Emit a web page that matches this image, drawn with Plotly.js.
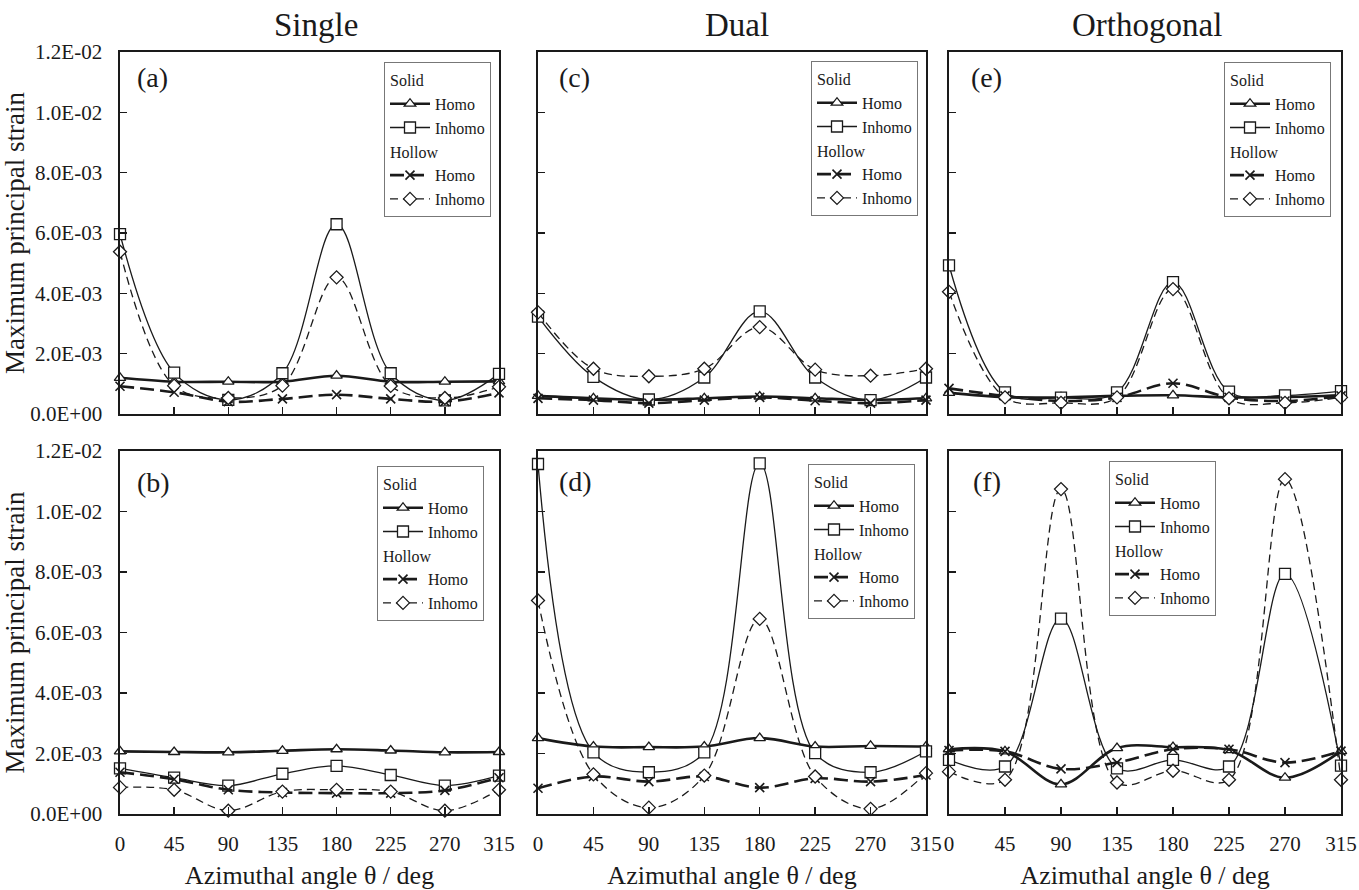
<!DOCTYPE html>
<html>
<head>
<meta charset="utf-8">
<script src="https://cdn.plot.ly/plotly-3.0.1.min.js"></script>
<style>
html,body{margin:0;padding:0;background:#fff;}
#chart{width:1359px;height:890px;}
</style>
</head>
<body>
<div id="chart"></div>
<script>
// ---------------- data ----------------
const angles = [0, 45, 90, 135, 180, 225, 270, 315];
const angleLabels = ['0', '45', '90', '135', '180', '225', '270', '315'];
const strainTicks = [0, 0.002, 0.004, 0.006, 0.008, 0.010, 0.012];
const strainTickLabels = ['0.0E+00', '2.0E-03', '4.0E-03', '6.0E-03', '8.0E-03', '1.0E-02', '1.2E-02'];

const columnTitles = ['Single', 'Dual', 'Orthogonal'];
const panelLetters = ['(a)', '(c)', '(e)', '(b)', '(d)', '(f)'];
const groupNames = ['Solid', 'Hollow'];
const seriesNames = ['Homo', 'Inhomo'];
const xTitle = 'Azimuthal angle θ / deg';
const yTitle = 'Maximum principal strain';

// (a) Single, upper row
const a_solidHomo    = [1.20e-3, 1.07e-3, 1.07e-3, 1.07e-3, 1.27e-3, 1.07e-3, 1.07e-3, 1.08e-3];
const a_solidInhomo  = [5.96e-3, 1.37e-3, 0.47e-3, 1.35e-3, 6.29e-3, 1.35e-3, 0.45e-3, 1.33e-3];
const a_hollowHomo   = [0.92e-3, 0.72e-3, 0.41e-3, 0.50e-3, 0.64e-3, 0.50e-3, 0.41e-3, 0.70e-3];
const a_hollowInhomo = [5.38e-3, 0.94e-3, 0.53e-3, 0.94e-3, 4.53e-3, 0.93e-3, 0.53e-3, 0.90e-3];
// (c) Dual, upper row
const c_solidHomo    = [0.60e-3, 0.52e-3, 0.47e-3, 0.52e-3, 0.58e-3, 0.52e-3, 0.47e-3, 0.52e-3];
const c_solidInhomo  = [3.23e-3, 1.23e-3, 0.48e-3, 1.21e-3, 3.40e-3, 1.21e-3, 0.46e-3, 1.21e-3];
const c_hollowHomo   = [0.52e-3, 0.46e-3, 0.36e-3, 0.46e-3, 0.55e-3, 0.44e-3, 0.36e-3, 0.46e-3];
const c_hollowInhomo = [3.37e-3, 1.50e-3, 1.25e-3, 1.50e-3, 2.88e-3, 1.47e-3, 1.27e-3, 1.50e-3];
// (e) Orthogonal, upper row
const e_solidHomo    = [0.70e-3, 0.56e-3, 0.55e-3, 0.60e-3, 0.62e-3, 0.55e-3, 0.56e-3, 0.62e-3];
const e_solidInhomo  = [4.93e-3, 0.72e-3, 0.54e-3, 0.72e-3, 4.37e-3, 0.74e-3, 0.62e-3, 0.76e-3];
const e_hollowHomo   = [0.85e-3, 0.60e-3, 0.43e-3, 0.55e-3, 1.02e-3, 0.55e-3, 0.43e-3, 0.60e-3];
const e_hollowInhomo = [4.05e-3, 0.55e-3, 0.37e-3, 0.55e-3, 4.14e-3, 0.52e-3, 0.37e-3, 0.55e-3];
// (b) Single, lower row
const b_solidHomo    = [2.07e-3, 2.05e-3, 2.04e-3, 2.09e-3, 2.14e-3, 2.10e-3, 2.04e-3, 2.05e-3];
const b_solidInhomo  = [1.51e-3, 1.20e-3, 0.94e-3, 1.33e-3, 1.59e-3, 1.29e-3, 0.94e-3, 1.27e-3];
const b_hollowHomo   = [1.38e-3, 1.15e-3, 0.80e-3, 0.71e-3, 0.69e-3, 0.69e-3, 0.78e-3, 1.20e-3];
const b_hollowInhomo = [0.88e-3, 0.80e-3, 0.11e-3, 0.74e-3, 0.80e-3, 0.74e-3, 0.11e-3, 0.80e-3];
// (d) Dual, lower row
const d_solidHomo    = [2.51e-3, 2.23e-3, 2.21e-3, 2.23e-3, 2.51e-3, 2.23e-3, 2.25e-3, 2.23e-3];
const d_solidInhomo  = [11.57e-3, 2.04e-3, 1.38e-3, 2.04e-3, 11.59e-3, 2.01e-3, 1.38e-3, 2.07e-3];
const d_hollowHomo   = [0.85e-3, 1.24e-3, 1.07e-3, 1.24e-3, 0.87e-3, 1.18e-3, 1.07e-3, 1.29e-3];
const d_hollowInhomo = [7.06e-3, 1.31e-3, 0.21e-3, 1.27e-3, 6.45e-3, 1.24e-3, 0.17e-3, 1.35e-3];
// (f) Orthogonal, lower row
const f_solidHomo    = [2.14e-3, 2.07e-3, 0.98e-3, 2.18e-3, 2.21e-3, 2.11e-3, 1.20e-3, 2.08e-3];
const f_solidInhomo  = [1.79e-3, 1.57e-3, 6.46e-3, 1.51e-3, 1.79e-3, 1.57e-3, 7.94e-3, 1.60e-3];
const f_hollowHomo   = [2.10e-3, 2.07e-3, 1.49e-3, 1.70e-3, 2.14e-3, 2.14e-3, 1.70e-3, 2.08e-3];
const f_hollowInhomo = [1.40e-3, 1.13e-3, 10.74e-3, 1.04e-3, 1.43e-3, 1.13e-3, 11.07e-3, 1.13e-3];

// ---------------- layout helpers ----------------
const W = 1359, H = 890;
const FONT = 'Liberation Serif, Times New Roman, serif';
const INK = '#1a1a1a';
const colPx = [[120, 499], [538, 926], [949, 1341]];
const rowPx = [[52, 414], [451, 814]];
const legendPx = [ // [right, top]
  [491, 62], [918, 61], [1331, 62],
  [484, 466], [915, 464], [1216, 461]
];
const labelPos = [ // [x domain, y domain]
  [0.04, 0.93], [0.05, 0.93], [0.05, 0.93],
  [0.04, 0.912], [0.05, 0.915], [0.055, 0.917]
];

const panels = [
  [a_solidHomo, a_solidInhomo, a_hollowHomo, a_hollowInhomo],
  [c_solidHomo, c_solidInhomo, c_hollowHomo, c_hollowInhomo],
  [e_solidHomo, e_solidInhomo, e_hollowHomo, e_hollowInhomo],
  [b_solidHomo, b_solidInhomo, b_hollowHomo, b_hollowInhomo],
  [d_solidHomo, d_solidInhomo, d_hollowHomo, d_hollowInhomo],
  [f_solidHomo, f_solidInhomo, f_hollowHomo, f_hollowInhomo]
];

const styles = [
  {line: {width: 2.6, dash: 'solid'}, symbol: 'triangle-up', size: 10},
  {line: {width: 1.3, dash: 'solid'}, symbol: 'square', size: 11},
  {line: {width: 2.6, dash: '14px,6px'}, symbol: 'x-thin', size: 9},
  {line: {width: 1.3, dash: '8px,5px'}, symbol: 'diamond', size: 10}
];

const traces = [];
const layout = {
  width: W, height: H,
  margin: {l: 0, r: 0, t: 0, b: 0},
  paper_bgcolor: '#fff', plot_bgcolor: '#fff',
  font: {family: FONT, color: INK, size: 20},
  showlegend: true,
  annotations: []
};

panels.forEach((series, p) => {
  const col = p % 3, row = Math.floor(p / 3);
  const n = p + 1;
  const xa = 'xaxis' + (n === 1 ? '' : n), ya = 'yaxis' + (n === 1 ? '' : n);
  const xr = 'x' + (n === 1 ? '' : n), yr = 'y' + (n === 1 ? '' : n);
  const legName = 'legend' + (n === 1 ? '' : n);

  series.forEach((vals, s) => {
    const st = styles[s];
    const grp = groupNames[Math.floor(s / 2)];
    const isX = st.symbol === 'x-thin';
    traces.push({
      type: 'scatter', mode: 'lines+markers',
      x: angles, y: vals, xaxis: xr, yaxis: yr,
      name: seriesNames[s % 2],
      legend: legName,
      legendgroup: 'p' + n + grp,
      legendgrouptitle: {text: grp, font: {family: FONT, size: 16, color: INK}},
      cliponaxis: false,
      line: {color: INK, width: st.line.width, dash: st.line.dash, shape: 'spline', smoothing: 1},
      marker: isX
        ? {symbol: 'x-thin', size: st.size, color: INK, line: {color: INK, width: 1.6}}
        : {symbol: st.symbol, size: st.size, color: '#fff', line: {color: INK, width: 1.3}}
    });
  });

  layout[xa] = {
    domain: [colPx[col][0] / W, colPx[col][1] / W],
    anchor: yr, range: [0, 315], fixedrange: true,
    tickmode: 'array', tickvals: angles, ticktext: angleLabels,
    showticklabels: row === 1,
    ticks: 'inside', ticklen: 7, tickwidth: 1.3, tickcolor: INK,
    ticklabelstandoff: 10,
    tickfont: {family: FONT, size: 21, color: INK},
    showline: true, mirror: true, linecolor: INK, linewidth: 1.6,
    showgrid: false, zeroline: false,
    title: row === 1 ? {text: xTitle, font: {family: FONT, size: 26, color: INK}, standoff: 11} : {text: ''}
  };
  layout[ya] = {
    domain: [1 - rowPx[row][1] / H, 1 - rowPx[row][0] / H],
    anchor: xr, range: [0, 0.012], fixedrange: true,
    tickmode: 'array', tickvals: strainTicks, ticktext: strainTickLabels,
    showticklabels: col === 0,
    ticks: 'inside', ticklen: 7, tickwidth: 1.3, tickcolor: INK,
    ticklabelstandoff: 12,
    tickfont: {family: FONT, size: 21, color: INK},
    showline: true, mirror: true, linecolor: INK, linewidth: 1.6,
    showgrid: false, zeroline: false,
    title: col === 0 ? {text: yTitle, font: {family: FONT, size: 27, color: INK}, standoff: 4} : {text: ''}
  };
  layout[legName] = {
    x: legendPx[p][0] / W, y: 1 - legendPx[p][1] / H,
    xanchor: 'right', yanchor: 'top',
    bgcolor: '#fff', bordercolor: '#777', borderwidth: 1,
    font: {family: FONT, size: 16, color: INK},
    traceorder: 'grouped', tracegroupgap: 0, itemwidth: 40
  };
  layout.annotations.push({
    text: panelLetters[p], showarrow: false,
    xref: xr + ' domain', yref: yr + ' domain',
    x: labelPos[p][0], y: labelPos[p][1], xanchor: 'left', yanchor: 'middle',
    font: {family: FONT, size: 28, color: INK}
  });
});

const colTitleX = [316, 737, 1147];
columnTitles.forEach((t, i) => {
  layout.annotations.push({
    text: t, showarrow: false, xref: 'paper', yref: 'paper',
    x: colTitleX[i] / W, y: 1 - 25 / H, xanchor: 'center', yanchor: 'middle',
    font: {family: FONT, size: 33, color: INK}
  });
});

Plotly.newPlot('chart', traces, layout, {displayModeBar: false, staticPlot: true});
</script>
</body>
</html>
